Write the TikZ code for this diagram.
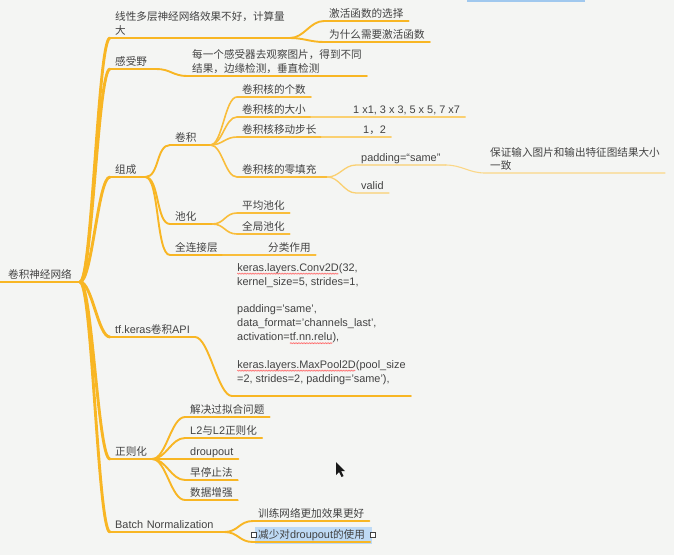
\documentclass[tikz,border=0pt]{standalone}
\usepackage{fontspec}
\setmainfont{Liberation Sans}[Scale=1.03]
\newfontfamily\cjkfont{Noto Sans CJK SC}
\newcommand\zh[1]{{\cjkfont #1}}
\usepackage{xcolor}
\definecolor{mmorange}{RGB}{248,182,36}
\definecolor{mmbg}{RGB}{244,245,243}
\definecolor{mmtext}{RGB}{66,66,66}
\definecolor{mmsel}{RGB}{190,218,245}
\definecolor{mmbar}{RGB}{160,200,238}
\usetikzlibrary{positioning,decorations.pathmorphing}
\newcommand\typo[1]{\tikz[baseline=(w.base)]{\node[inner sep=0pt, outer sep=0pt] (w) {#1};
  \draw[red!60, line width=0.4pt, decorate, decoration={zigzag, amplitude=0.6pt, segment length=1.6pt}]
    ([yshift=-2.4pt]w.base west) -- ([yshift=-2.4pt]w.base east);}}
\tikzset{
  topic/.style={anchor=south west, inner xsep=5pt, inner ysep=0.5pt, text=mmtext,
                font=\fontsize{10.6}{14}\selectfont, align=left,
                execute at end node={\rule[-2.5pt]{0pt}{2.5pt}}},
  trunk/.style={draw=mmorange, line width=2.9pt, line cap=round},
  bough/.style={draw=mmorange, line width=2.4pt, line cap=round},
  twig/.style={draw=mmorange, line width=1.9pt, line cap=round},
  sprig/.style={draw=mmorange!90, line width=1.6pt, line cap=round},
  leaf/.style={draw=mmorange!65, line width=1.3pt, line cap=round},
  fineleaf/.style={draw=mmorange!55, line width=1.1pt, line cap=round},
}

\begin{document}
\begin{tikzpicture}[x=1pt, y=-1pt]

\fill[mmbg] (0,0) rectangle (674,555);
\useasboundingbox (0,0) rectangle (674,555);
\fill[mmbar] (467,0) rectangle (585,2.2);

% selection behind the last topic
\fill[mmsel] (255,527) rectangle (372,544);

% root
\node[topic, inner xsep=8pt] (root) at (0,282) {\zh{卷积神经网络}};

% first level
\node[topic] (linear) at (110,38) {\zh{线性多层神经网络效果不好，计算量}\\\zh{大}};
\node[topic, text width=36pt] (field) at (110,69) {\zh{感受野}};
\node[topic, text width=25pt] (parts) at (110,177) {\zh{组成}};
\node[topic] (api) at (110,337) {tf.keras\zh{卷积}API};
\node[topic] (reg) at (110,459) {\zh{正则化}};
\node[topic, text width=104pt] (bn) at (110,532) {Batch Normalization};

\draw[trunk] (root.south west) -- (root.south east);
\foreach \t in {linear,field,parts,api,reg,bn}
  \draw[trunk] (root.south east) .. controls +(12,0) and +(-12,0) .. (\t.south west);
\foreach \t in {linear,field,parts,api,reg,bn}
  \draw[bough] (\t.south west) -- (\t.south east);

% second level
\node[topic] (act1) at (324,21) {\zh{激活函数的选择}};
\node[topic] (act2) at (324,42) {\zh{为什么需要激活函数}};
\node[topic] (fieldtxt) at (187,76) {\zh{每一个感受器去观察图片，得到不同}\\\zh{结果，边缘检测，垂直检测}};
\node[topic, text width=30pt] (conv) at (170,145) {\zh{卷积}};
\node[topic, text width=32pt] (pool) at (170,224) {\zh{池化}};
\node[topic] (fc) at (170,255) {\zh{全连接层}};
\node[topic] (code) at (232,396) {\typo{keras.layers.Conv2D}(32,\\
  kernel\_size=5, strides=1,\\[13.5pt]
  padding='same',\\
  data\_format='channels\_last',\\
  activation=\typo{tf.nn.relu}),\\[13.5pt]
  \typo{keras.layers.MaxPool2D}(pool\_size\\
  =2, strides=2, padding='same'),\rule[-13pt]{0pt}{13pt}};
\node[topic] (r1) at (185,417) {\zh{解决过拟合问题}};
\node[topic] (r2) at (185,438) {L2\zh{与}L2\zh{正则化}};
\node[topic] (r3) at (185,459) {droupout};
\node[topic] (r4) at (185,480) {\zh{早停止法}};
\node[topic] (r5) at (185,500) {\zh{数据增强}};
\node[topic] (bn1) at (253,521) {\zh{训练网络更加效果更好}};
\node[topic] (bn2) at (253,542) {\zh{减少对}droupout\zh{的使用}};

\foreach \p/\c in {linear/act1,linear/act2,field/fieldtxt,parts/conv,parts/pool,parts/fc,
                   api/code,reg/r1,reg/r2,reg/r3,reg/r4,reg/r5,bn/bn1,bn/bn2}
  \draw[twig] (\p.south east) .. controls +(14,0) and +(-14,0) .. (\c.south west) -- (\c.south east);

% third level
\node[topic] (knum) at (237,97) {\zh{卷积核的个数}};
\node[topic] (ksize) at (237,117) {\zh{卷积核的大小}};
\node[topic] (kstep) at (237,137) {\zh{卷积核移动步长}};
\node[topic, text width=80pt] (kpad) at (237,177) {\zh{卷积核的零填充}};
\node[topic] (avgp) at (237,213) {\zh{平均池化}};
\node[topic] (glbp) at (237,234) {\zh{全局池化}};
\node[topic] (fcuse) at (263,255) {\zh{分类作用}};

\foreach \p/\c in {conv/knum,conv/ksize,conv/kstep,conv/kpad,pool/avgp,pool/glbp,fc/fcuse}
  \draw[sprig] (\p.south east) .. controls +(12,0) and +(-12,0) .. (\c.south west) -- (\c.south east);

% fourth level
\node[topic] (sizes) at (348,117) {1 x1, 3 x 3, 5 x 5, 7 x7};
\node[topic] (steps) at (358,137) {1\zh{，}2};
\node[topic] (same) at (356,165) {padding=“same”};
\node[topic] (valid) at (356,193) {valid};

\foreach \p/\c in {ksize/sizes,kstep/steps,kpad/same,kpad/valid}
  \draw[leaf] (\p.south east) .. controls +(12,0) and +(-12,0) .. (\c.south west) -- (\c.south east);

\node[topic, font=\fontsize{10.6}{13}\selectfont] (samenote) at (485,173)
  {\zh{保证输入图片和输出特征图结果大小}\\\zh{一致}};
\draw[fineleaf] (same.south east) .. controls +(16,0) and +(-16,0) .. (samenote.south west) -- (samenote.south east);

% selection handles
\draw[black!75, fill=white, line width=0.7pt] (251.5,532.5) rectangle (256.5,537.5);
\draw[black!75, fill=white, line width=0.7pt] (370,532.5) rectangle (375,537.5);

% mouse pointer
\fill[black!90] (336,462) -- (336,475) -- (339,472) -- (341.5,477) -- (343.5,476)
  -- (341,471) -- (345,471) -- cycle;

\end{tikzpicture}
\end{document}
